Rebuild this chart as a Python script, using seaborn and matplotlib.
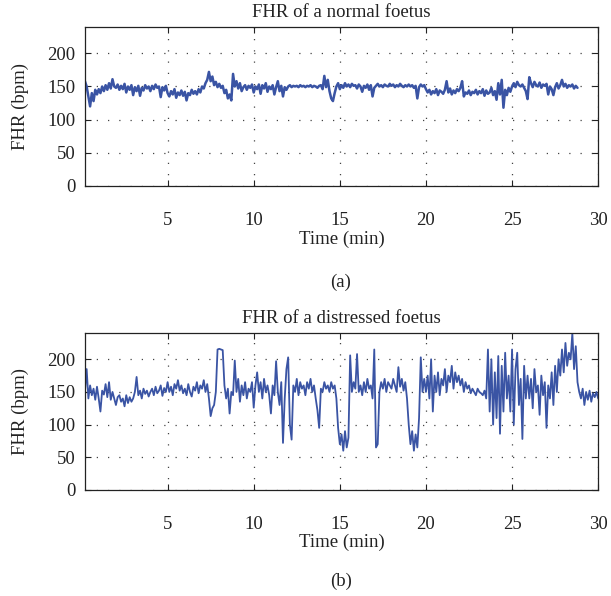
import numpy as np
import matplotlib
matplotlib.use('Agg')
import matplotlib.pyplot as plt
import seaborn as sns

# FHR samples, one sample every 0.1 min
t_start = 0.2
t_step = 0.1

fhr_normal = [
    158, 150, 135, 120, 140, 128, 145, 138,
    146, 140, 150, 143, 152, 145, 155, 147, 161, 150,
    148, 153, 145, 151, 146, 154, 141, 150, 145, 152,
    137, 149, 143, 151, 136, 148, 144, 152, 147, 150,
    143, 151, 146, 153, 148, 150, 134, 149, 144, 151,
    140, 135, 143, 138, 146, 133, 141, 137, 144, 136,
    142, 129, 140, 137, 145, 139, 143, 138, 146, 141,
    150, 147, 155, 160, 172, 158, 165, 152, 157, 149,
    154, 148, 151, 140, 145, 132, 138, 129, 169, 150,
    158, 147, 155, 143, 149, 152, 145, 151, 148, 153,
    141, 150, 146, 153, 139, 152, 147, 155, 142, 150,
    146, 152, 138, 149, 158, 143, 151, 135, 149, 145,
    150, 152, 149, 151, 150, 151, 149, 152, 150, 151,
    149, 151, 150, 152, 149, 151, 150, 148, 151, 152,
    146, 166, 149, 160, 143, 132, 128, 140, 150, 155,
    146, 152, 148, 155, 150, 153, 149, 154, 151, 152,
    147, 153, 150, 142, 151, 148, 153, 145, 152, 135,
    148, 151, 154, 150, 152, 149, 153, 151, 150, 154,
    151, 153, 149, 152, 150, 154, 151, 149, 152, 150,
    153, 150, 152, 148, 151, 132, 149, 153, 150, 152,
    146, 141, 145, 138, 143, 140, 146, 137, 144, 142,
    139, 145, 158, 141, 147, 138, 144, 140, 146, 143,
    148, 158, 135, 141, 139, 144, 137, 142, 140, 145,
    138, 143, 140, 146, 136, 144, 139, 141, 148, 137,
    143, 130, 155, 138, 160, 118, 145, 137, 148, 142,
    150, 155, 149, 157, 152, 150, 153, 148, 143, 131,
    164, 155, 149, 157, 152, 150, 156, 148, 153, 151,
    154, 138, 150, 146, 137, 149, 155, 147, 152, 160,
    150, 154, 148, 152, 150, 153, 147, 151, 148,
]

fhr_distressed = [
    150, 185, 140, 160, 145, 155, 138, 158,
    140, 120, 152, 146, 162, 142, 165, 138, 150, 140,
    130, 142, 145, 135, 140, 128, 145, 133, 142, 135,
    140, 150, 173, 145, 152, 140, 155, 147, 152, 143,
    150, 155, 145, 158, 148, 152, 160, 144, 156, 150,
    165, 150, 158, 145, 162, 155, 168, 152, 160, 148,
    155, 145, 162, 150, 143, 158, 152, 165, 148, 160,
    155, 168, 150, 162, 140, 113, 125, 130, 150, 215,
    216, 215, 214, 160, 140, 155, 117, 150, 145, 198,
    150, 170, 135, 160, 145, 165, 140, 155, 150, 165,
    126, 160, 180, 150, 165, 140, 170, 150, 160, 145,
    117, 160, 145, 197, 150, 130, 165, 72, 140, 185,
    203, 100, 77, 160, 150, 170, 145, 165, 155, 160,
    145, 165, 155, 170, 150, 160, 140, 122, 95, 155,
    150, 165, 155, 160, 150, 165, 155, 160, 140, 95,
    70, 85, 60, 90, 65, 80, 206, 150, 165, 155,
    208, 150, 160, 145, 165, 150, 170, 155, 160, 140,
    215, 65, 70, 150, 165, 155, 170, 150, 165, 160,
    155, 170, 160, 150, 188, 158, 170, 152, 165, 140,
    100, 70, 90, 60, 85, 65, 110, 203, 150, 170,
    150, 175, 140, 200, 120, 175, 150, 180, 145, 170,
    160, 185, 150, 175, 165, 190, 155, 180, 165, 175,
    160, 170, 150, 165, 155, 160, 148, 155, 150, 145,
    155, 150, 148, 145, 152, 140, 215, 120, 200, 100,
    180, 110, 205, 86, 190, 120, 210, 140, 175, 120,
    215, 100, 185, 210, 130, 170, 78, 190, 140, 175,
    140, 170, 125, 185, 150, 160, 115, 175, 145, 165,
    95, 160, 140, 180, 130, 190, 150, 200, 175, 215,
    180, 225, 190, 210, 200, 240, 185, 220, 165, 150,
    140, 155, 130, 150, 138, 152, 135, 148, 142, 150,
    140,
]

titles = ['FHR of a normal foetus', 'FHR of a distressed foetus']
panel_tags = ['(a)', '(b)']
x_ticks = [5, 10, 15, 20, 25, 30]
y_ticks = [0, 50, 100, 150, 200]

sns.set_style('ticks')
plt.rcParams['font.family'] = ['Liberation Serif', 'DejaVu Serif']
plt.rcParams['font.size'] = 13.5
txt_col = '#222222'
line_col = '#3a54a4'

fig = plt.figure(figsize=(6.11, 5.96), dpi=100)
ax1 = fig.add_axes([0.139, 0.688, 0.840, 0.267])
ax2 = fig.add_axes([0.139, 0.178, 0.840, 0.263])

widths = [1.8, 1.3]
for ax, vals, title, lw in zip([ax1, ax2], [fhr_normal, fhr_distressed], titles, widths):
    t = t_start + t_step * np.arange(len(vals))
    sns.lineplot(x=t, y=vals, ax=ax, color=line_col, lw=lw,
                 estimator=None, sort=False)
    ax.set_xlim(0.2, 30)
    ax.set_ylim(0, 240)
    ax.set_xticks(x_ticks)
    ax.set_yticks(y_ticks)
    ax.grid(True, color='#444444', lw=0.9, ls=(0, (1, 8)))
    ax.tick_params(direction='in', top=True, right=True, length=4,
                   width=0.8, colors='#222222', labelcolor=txt_col,
                   labelsize=13.5)
    ax.tick_params(axis='x', pad=19)
    ax.tick_params(axis='y', pad=7)
    for s in ax.spines.values():
        s.set_color('#222222')
        s.set_linewidth(0.9)
    ax.set_title(title, color=txt_col, fontsize=13.5, pad=7)
    ax.set_xlabel('Time (min)', color=txt_col, fontsize=13.5)
    ax.set_ylabel('FHR (bpm)', color=txt_col, fontsize=13.5)
    ax.xaxis.set_label_coords(0.5, -0.28)
    ax.yaxis.set_label_coords(-0.108, 0.5)

fig.text(0.558, 1 - 282 / 596, panel_tags[0], ha='center', va='center',
         color=txt_col, fontsize=13.5)
fig.text(0.558, 1 - 581 / 596, panel_tags[1], ha='center', va='center',
         color=txt_col, fontsize=13.5)

fig.savefig('out.png', dpi=100)
